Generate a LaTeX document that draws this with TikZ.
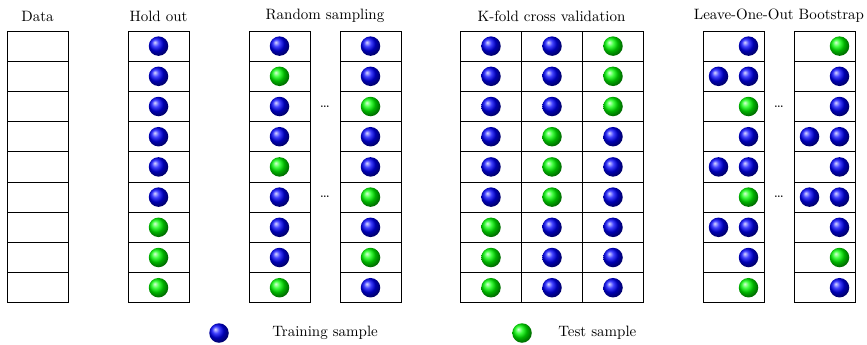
\documentclass[tikz,border=0pt]{standalone}
\begin{document}
\begin{tikzpicture}[x=0.6667pt,y=-0.6667pt,
  cell/.style={draw, line width=0.6pt, minimum width=40.67pt, minimum height=20.13pt, inner sep=0pt, outer sep=0pt},
  ballB/.style={circle, minimum size=13pt, inner sep=0pt, shading=ball, ball color=blue},
  ballG/.style={circle, minimum size=13pt, inner sep=0pt, shading=ball, ball color=green},
  ttl/.style={inner sep=1pt, font=\normalsize},
  dots/.style={inner sep=0pt, font=\normalsize}]
\useasboundingbox (0,0) rectangle (867,344);
\def\rowy#1{46.1+30.2*#1}
% titles
\node[ttl] (tData) at (37.5,16) {Data};
\node[ttl] (tHold) at (158.5,16) {Hold out};
\node[ttl] (tRand) at (325,16) {Random sampling};
\node[ttl] (tKf) at (551.5,16) {K-fold cross validation};
\node[ttl] (tLoo) at (779,16) {Leave-One-Out Bootstrap};
% cells
\foreach \i in {0,...,8}{
  \node[cell] (d-\i) at (37.5,{\rowy{\i}}) {};
  \node[cell] (h-\i) at (158.5,{\rowy{\i}}) {};
  \node[cell] (ra-\i) at (279.5,{\rowy{\i}}) {};
  \node[cell] (rb-\i) at (370.5,{\rowy{\i}}) {};
  \node[cell] (ka-\i) at (491,{\rowy{\i}}) {};
  \node[cell] (kb-\i) at (552,{\rowy{\i}}) {};
  \node[cell] (kc-\i) at (613,{\rowy{\i}}) {};
  \node[cell] (la-\i) at (733.5,{\rowy{\i}}) {};
  \node[cell] (lb-\i) at (824.5,{\rowy{\i}}) {};
}
% hold out
\foreach \c [count=\i from 0] in {B,B,B,B,B,B,G,G,G}
  \node[ball\c] (hb-\i) at (h-\i) {};
% random sampling
\foreach \c [count=\i from 0] in {B,G,B,B,G,B,B,B,G}
  \node[ball\c] (rab-\i) at (ra-\i) {};
\foreach \c [count=\i from 0] in {B,B,G,B,B,G,B,G,B}
  \node[ball\c] (rbb-\i) at (rb-\i) {};
% k-fold
\foreach \c [count=\i from 0] in {B,B,B,B,B,B,G,G,G}
  \node[ball\c] (kab-\i) at (ka-\i) {};
\foreach \c [count=\i from 0] in {B,B,B,G,G,G,B,B,B}
  \node[ball\c] (kbb-\i) at (kb-\i) {};
\foreach \c [count=\i from 0] in {G,G,G,B,B,B,B,B,B}
  \node[ball\c] (kcb-\i) at (kc-\i) {};
% leave-one-out bootstrap
\foreach \c [count=\i from 0] in {B,B,G,B,B,G,B,B,G}
  \node[ball\c] (lab-\i) at ([xshift=10pt]la-\i.center) {};
\foreach \i in {1,4,6}
  \node[ballB] (lal-\i) at ([xshift=-10pt]la-\i.center) {};
\foreach \c [count=\i from 0] in {G,B,B,B,B,B,B,G,B}
  \node[ball\c] (lbb-\i) at ([xshift=10pt]lb-\i.center) {};
\foreach \i in {3,5}
  \node[ballB] (lbl-\i) at ([xshift=-10pt]lb-\i.center) {};
% dots
\node[dots] (rd1) at (325,{\rowy{2}}) {\dots};
\node[dots] (rd2) at (325,{\rowy{5}}) {\dots};
\node[dots] (ld1) at (779,{\rowy{2}}) {\dots};
\node[dots] (ld2) at (779,{\rowy{5}}) {\dots};
% legend
\node[ballB] (legB) at (219,333) {};
\node[anchor=west, inner sep=0pt] (legBt) at (272,333) {Training sample};
\node[ballG] (legG) at (522,333) {};
\node[anchor=west, inner sep=0pt] (legGt) at (558,333) {Test sample};
\end{tikzpicture}
\end{document}
